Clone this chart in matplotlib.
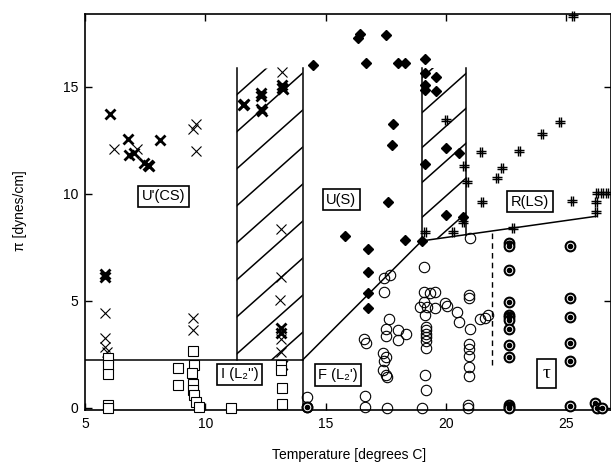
import matplotlib
matplotlib.use('Agg')
import matplotlib.pyplot as plt
import numpy as np
from matplotlib.path import Path
from matplotlib.patches import Polygon

plt.rcParams['font.family'] = ['Liberation Sans', 'DejaVu Sans']
plt.rcParams['font.size'] = 10

# --- data (temperature in deg C, pressure in dynes/cm) ---
thin_x_T = [6.2, 7.15, 9.5, 9.6, 9.6, 5.85, 5.85, 5.85, 5.9, 9.5, 9.5,
            13.2, 13.15, 13.15, 13.1, 13.15, 13.15]
thin_x_P = [12.1, 12.1, 13.05, 13.25, 12.0, 4.45, 3.27, 2.85, 2.6, 4.2, 3.65,
            15.7, 8.35, 6.1, 5.05, 2.6, 3.2]

bold_x_T = [6.05, 6.8, 6.85, 7.05, 7.45, 7.6, 7.65, 8.1, 5.85, 5.85,
            11.55, 11.6, 12.3, 12.3, 12.35, 12.3, 13.2, 13.2, 13.25,
            13.15, 13.15, 13.2]
bold_x_P = [13.75, 12.55, 11.8, 11.9, 11.45, 11.35, 11.3, 12.5, 6.1, 6.25,
            14.15, 14.2, 14.55, 14.7, 13.85, 13.95, 14.95, 15.1, 14.9,
            3.75, 3.5, 2.0]

sq_T = [5.95, 5.95, 5.95, 5.95, 5.95, 9.5, 9.55, 9.45, 9.5, 9.5, 9.55, 9.6,
        9.75, 8.85, 8.85, 11.05, 13.15, 13.15, 13.2, 13.2]
sq_P = [2.35, 2.0, 1.6, 0.15, 0.0, 2.65, 2.0, 1.65, 1.1, 0.85, 0.6, 0.28,
        0.05, 1.85, 1.05, 0.0, 2.0, 1.75, 0.95, 0.2]

dia_T = [14.5, 16.35, 16.45, 17.5, 16.7, 18.0, 18.3, 19.15, 19.15, 19.6,
         19.15, 19.15, 19.6, 17.8, 17.75, 20.0, 20.55, 19.15, 17.6, 20.0,
         20.7, 15.8, 16.75, 18.3, 19.0, 16.75, 16.75, 16.75]
dia_P = [16.0, 17.3, 17.45, 17.4, 16.1, 16.1, 16.1, 16.3, 15.65, 15.45,
         15.1, 14.85, 14.8, 13.25, 12.3, 12.15, 11.9, 11.4, 9.6, 9.0,
         8.9, 8.05, 7.4, 7.85, 7.8, 6.35, 5.35, 4.65]

hash_T = [25.3, 24.75, 24.0, 20.0, 21.45, 23.05, 20.75, 22.35, 22.15, 20.9,
          21.5, 25.25, 26.3, 26.5, 26.7, 26.25, 26.25, 20.7, 19.15, 20.3, 22.8]
hash_P = [18.3, 13.35, 12.8, 13.45, 11.95, 12.0, 11.3, 11.2, 10.75, 10.55,
          9.6, 9.65, 10.05, 10.05, 10.05, 9.6, 9.15, 8.7, 8.2, 8.2, 8.4]

circ_T = [14.25, 14.25, 16.66, 16.66, 17.57, 19.02, 20.93, 20.93, 16.62, 16.7,
          17.45, 17.7, 17.45, 17.66, 17.5, 17.53, 18.03, 18.36, 18.03,
          17.4, 17.5, 17.45, 17.4, 17.5, 17.57,
          19.1, 19.1, 19.36, 19.56, 19.1, 18.94, 19.23, 19.15, 19.56,
          19.19, 19.19, 19.19, 19.19, 19.19, 19.19, 19.15, 19.19,
          19.98, 20.06, 20.48, 20.56, 20.98, 20.98, 21.02,
          20.98, 20.98, 20.98, 20.96, 20.96,
          21.43, 21.64, 21.76, 21.02]
circ_P = [0.51, 0.05, 0.56, 0.05, 0.0, 0.0, 0.15, 0.0, 3.2, 3.05,
          6.07, 6.2, 5.42, 4.16, 3.7, 3.36, 3.64, 3.46, 3.18,
          2.57, 2.38, 2.2, 1.78, 1.54, 1.45,
          6.6, 5.42, 5.37, 5.42, 4.95, 4.72, 4.72, 4.35, 4.67,
          3.78, 3.64, 3.46, 3.3, 3.13, 2.8, 1.54, 0.84,
          4.9, 4.77, 4.5, 4.02, 5.28, 5.14, 3.7,
          2.98, 2.75, 2.43, 1.92, 1.5,
          4.16, 4.2, 4.35, 7.94]

dot_T = [22.64, 22.64, 22.64, 22.64, 22.64, 22.64, 22.64, 22.64, 22.64,
         22.64, 22.64, 22.64, 22.64,
         25.17, 25.17, 25.17, 25.17, 25.17, 25.17,
         26.2, 26.29, 26.49, 14.25]
dot_P = [7.7, 7.57, 6.45, 4.95, 4.35, 4.25, 4.1, 3.7, 2.94, 2.38, 0.15, 0.05, 0.0,
         7.57, 5.14, 4.25, 3.04, 2.2, 0.1,
         0.23, 0.0, 0.0, 0.05]

# phase boundaries
lower_T = [5, 14.05]
lower_P = [2.24, 2.24]
slope_T = [14.05, 19.0, 26.25]
slope_P = [2.24, 7.8, 8.95]
box1_T, box1_P = [11.31, 14.05], [2.24, 15.9]
box2_T, box2_P = [19.02, 20.85], [7.8, 15.9]
dash_T, dash_P = [21.93, 21.93], [2.0, 8.2]

labels = ["U'(CS)", "U(S)", "R(LS)", "I (L\u2082'')", "F (L\u2082')", "\u03c4"]
label_T = [8.28, 15.66, 23.5, 11.43, 15.52, 24.19]
label_P = [9.88, 9.72, 9.63, 1.57, 1.54, 1.61]

fig = plt.figure(figsize=(6.11, 4.68), dpi=100)
ax = fig.add_axes([85/611, 1 - 410/468, 526/611, 396/468])
ax.set_xlim(5, 26.87)
ax.set_ylim(-0.1, 18.4)

lw = 1.1
k = 'black'

# boundaries
ax.plot(lower_T, lower_P, color=k, lw=lw, zorder=2)
ax.plot(slope_T, slope_P, color=k, lw=lw, zorder=2)
ax.plot([box1_T[0]] * 2, box1_P, color=k, lw=lw, zorder=2)
ax.plot([box1_T[1]] * 2, [0, box1_P[1]], color=k, lw=lw, zorder=2)
ax.plot([box2_T[0]] * 2, box2_P, color=k, lw=lw, zorder=2)
p_right = np.interp(box2_T[1], slope_T, slope_P)
ax.plot([box2_T[1]] * 2, [p_right, box2_P[1]], color=k, lw=lw, zorder=2)
ax.plot(dash_T, dash_P, color=k, lw=1.0, ls=(0, (4, 3)), zorder=2)


def hatch(poly, t0, p0, step, n):
    clip = Polygon(poly, closed=True, fill=False, edgecolor='none')
    ax.add_patch(clip)
    tt = np.array([0.0, 30.0])
    for i in range(-n, n):
        ln, = ax.plot(tt, p0 + i * step + (tt - t0), color=k, lw=lw, zorder=2)
        ln.set_clip_path(clip)


hatch([(box1_T[0], box1_P[0]), (box1_T[1], box1_P[0]),
       (box1_T[1], box1_P[1] - 0.1), (box1_T[0], box1_P[1])],
      box1_T[0], 12.9, 1.73, 10)
hatch([(box2_T[0], box2_P[0]), (box2_T[1], p_right),
       (box2_T[1], box2_P[1] - 0.1), (box2_T[0], box2_P[1])],
      box2_T[0], 13.8, 1.63, 10)

# markers
hash_path = Path([(-0.3, -1), (-0.3, 1), (0.3, -1), (0.3, 1),
                  (-1, -0.3), (1, -0.3), (-1, 0.3), (1, 0.3)],
                 [Path.MOVETO, Path.LINETO] * 4)

ax.plot(thin_x_T, thin_x_P, 'x', ms=7, mew=0.8, color=k, clip_on=False, zorder=3)
ax.plot(bold_x_T, bold_x_P, 'x', ms=6.5, mew=2.0, color=k, clip_on=False, zorder=3)
ax.plot(sq_T, sq_P, 's', ms=6.5, mew=0.8, mfc='white', mec=k, clip_on=False, zorder=3)
ax.plot(dia_T, dia_P, 'D', ms=5.3, color=k, clip_on=False, zorder=3)
ax.plot(hash_T, hash_P, marker=hash_path, ls='none', ms=7, mew=1.0, mfc='none',
        mec=k, clip_on=False, zorder=3)
ax.plot(circ_T, circ_P, 'o', ms=7.5, mew=0.8, mfc='none', mec=k, clip_on=False, zorder=3)
ax.plot(dot_T, dot_P, 'o', ms=7, mew=1.5, mfc='white', mec=k, clip_on=False, zorder=3)
ax.plot(dot_T, dot_P, 'o', ms=3, color=k, clip_on=False, zorder=4)

# region labels
for txt, t, p in zip(labels, label_T, label_P):
    is_tau = txt == '\u03c4'
    fam = ['Liberation Serif'] if is_tau else ['Liberation Sans', 'DejaVu Sans']
    ax.text(t, p, txt, ha='center', va='center', fontsize=14 if is_tau else 10.5,
            family=fam, zorder=5,
            bbox=dict(boxstyle='square,pad=0.3' if is_tau else 'square,pad=0.25',
                      facecolor='white', edgecolor=k, linewidth=1.2))

# axes styling
for s in ax.spines.values():
    s.set_linewidth(1.2)
ax.set_xticks([5, 10, 15, 20, 25])
ax.set_yticks([0, 5, 10, 15])
ax.tick_params(direction='in', length=5, width=1, top=True, right=True,
               labelsize=10, pad=5)

fig.text(349.5/611, 1 - 455/468, 'Temperature [degrees C]', ha='center', va='center',
         fontsize=10)
fig.text(20/611, 1 - 211/468, '\u03c0 [dynes/cm]', ha='center', va='center',
         rotation=90, fontsize=10)

fig.savefig('out.png', dpi=100)
